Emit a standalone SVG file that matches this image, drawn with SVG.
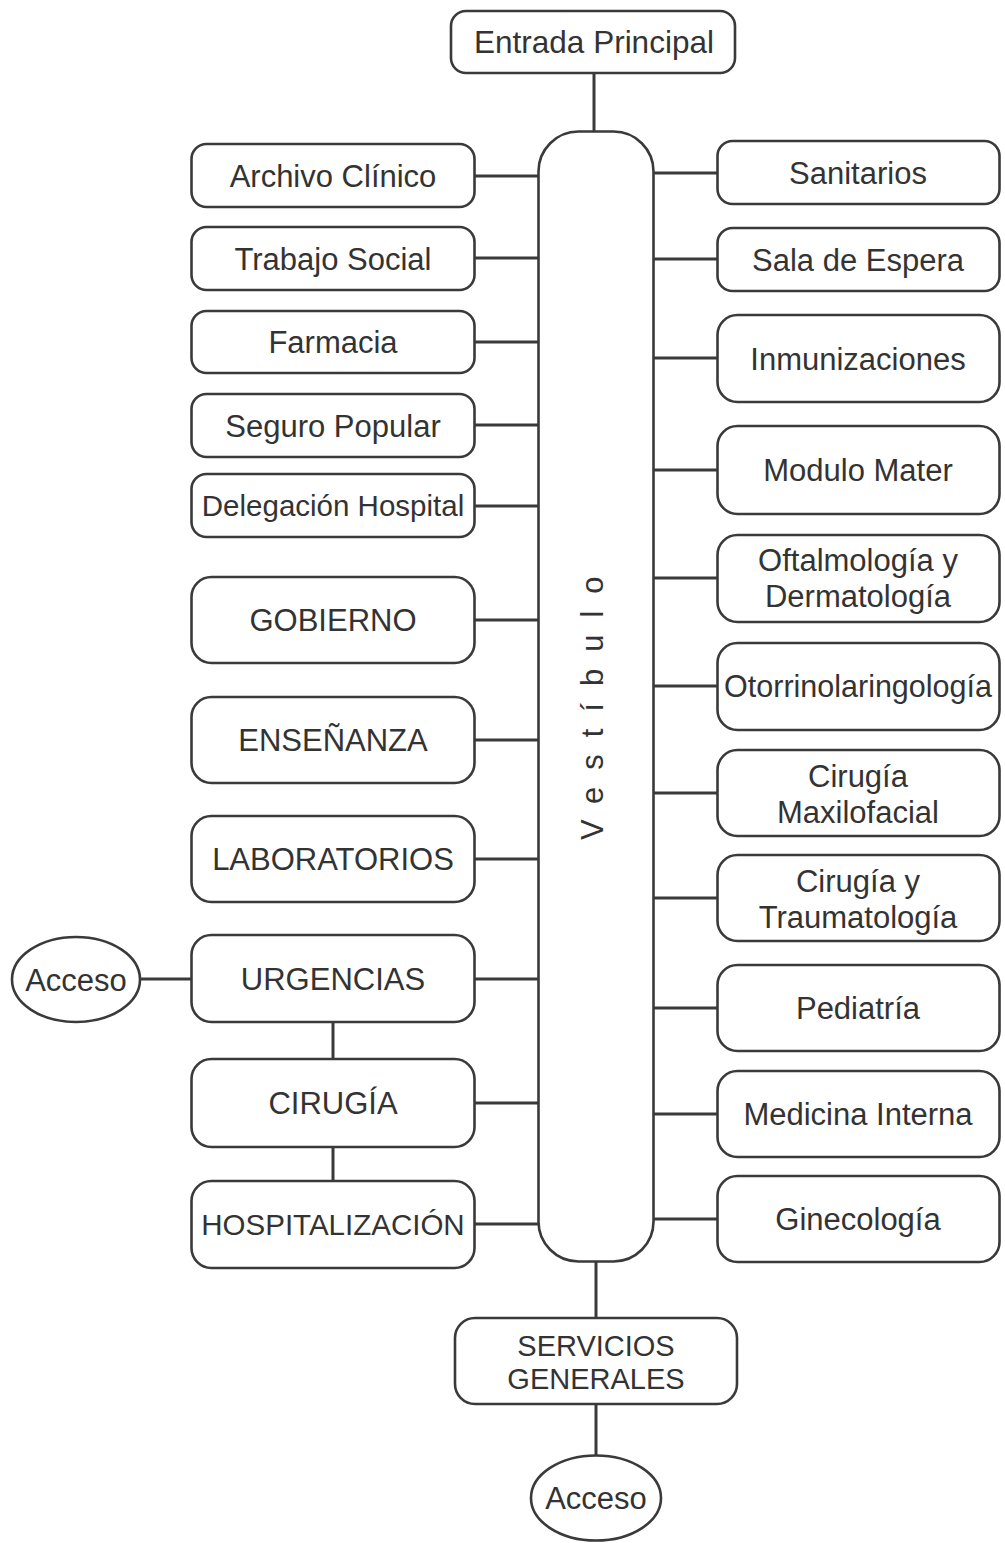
<svg xmlns="http://www.w3.org/2000/svg" width="1005" height="1543" viewBox="0 0 1005 1543">
<style>
.b{fill:#fff;stroke:#3a3a3a;stroke-width:2.6}
.c line{stroke:#3a3a3a;stroke-width:3}
text{font-family:"Liberation Sans",Arial,sans-serif;font-size:31px;fill:#333;text-anchor:middle}
.s{font-size:29.5px}
</style>
<rect width="1005" height="1543" fill="#fff"/>
<g class="c">
<line x1="594" y1="73" x2="594" y2="132"/>
<line x1="596" y1="1261" x2="596" y2="1318"/>
<line x1="596" y1="1404" x2="596" y2="1456"/>
<line x1="140" y1="979" x2="192" y2="979"/>
<line x1="333" y1="1022" x2="333" y2="1060"/>
<line x1="333" y1="1146" x2="333" y2="1182"/>
<line x1="474" y1="176" x2="539" y2="176"/>
<line x1="474" y1="258" x2="539" y2="258"/>
<line x1="474" y1="342" x2="539" y2="342"/>
<line x1="474" y1="425" x2="539" y2="425"/>
<line x1="474" y1="506" x2="539" y2="506"/>
<line x1="474" y1="620" x2="539" y2="620"/>
<line x1="474" y1="740" x2="539" y2="740"/>
<line x1="474" y1="859" x2="539" y2="859"/>
<line x1="474" y1="979" x2="539" y2="979"/>
<line x1="474" y1="1103" x2="539" y2="1103"/>
<line x1="474" y1="1224" x2="539" y2="1224"/>
<line x1="653" y1="173" x2="718" y2="173"/>
<line x1="653" y1="259" x2="718" y2="259"/>
<line x1="653" y1="358" x2="718" y2="358"/>
<line x1="653" y1="470" x2="718" y2="470"/>
<line x1="653" y1="578" x2="718" y2="578"/>
<line x1="653" y1="686" x2="718" y2="686"/>
<line x1="653" y1="793" x2="718" y2="793"/>
<line x1="653" y1="898" x2="718" y2="898"/>
<line x1="653" y1="1008" x2="718" y2="1008"/>
<line x1="653" y1="1114" x2="718" y2="1114"/>
<line x1="653" y1="1219" x2="718" y2="1219"/>
</g>
<g id="vestibulo"><rect class="b" x="538.5" y="131.5" width="115" height="1130" rx="40"/><text transform="translate(603,840) rotate(-90)" style="text-anchor:start;font-size:31px;letter-spacing:17px">Vestíbulo</text></g>
<g id="entrada"><rect class="b" x="451" y="11" width="284" height="62" rx="15"/><text x="594" y="53" style="font-size:31.5px">Entrada Principal</text></g>
<g id="archivo"><rect class="b" x="191.5" y="144" width="283" height="63" rx="15"/><text x="333" y="187">Archivo Clínico</text></g>
<g id="trabajo"><rect class="b" x="191.5" y="227" width="283" height="63" rx="15"/><text x="333" y="270">Trabajo Social</text></g>
<g id="farmacia"><rect class="b" x="191.5" y="311" width="283" height="62" rx="15"/><text x="333" y="353">Farmacia</text></g>
<g id="seguro"><rect class="b" x="191.5" y="394" width="283" height="63" rx="15"/><text x="333" y="437">Seguro Popular</text></g>
<g id="delegacion"><rect class="b" x="191.5" y="474" width="283" height="63" rx="15"/><text class="s" x="333" y="516">Delegación Hospital</text></g>
<g id="gobierno"><rect class="b" x="191.5" y="577" width="283" height="86" rx="20"/><text x="333" y="631">GOBIERNO</text></g>
<g id="ensenanza"><rect class="b" x="191.5" y="697" width="283" height="86" rx="20"/><text x="333" y="751">ENSEÑANZA</text></g>
<g id="laboratorios"><rect class="b" x="191.5" y="816" width="283" height="86" rx="20"/><text x="333" y="870">LABORATORIOS</text></g>
<g id="urgencias"><rect class="b" x="191.5" y="935" width="283" height="87" rx="20"/><text x="333" y="990">URGENCIAS</text></g>
<g id="cirugia"><rect class="b" x="191.5" y="1059" width="283" height="88" rx="20"/><text x="333" y="1114">CIRUGÍA</text></g>
<g id="hospitalizacion"><rect class="b" x="191.5" y="1181" width="283" height="87" rx="20"/><text class="s" x="333" y="1235">HOSPITALIZACIÓN</text></g>
<g id="acceso1"><ellipse class="b" cx="76" cy="979.5" rx="64" ry="42.5"/><text x="76" y="991">Acceso</text></g>
<g id="sanitarios"><rect class="b" x="717.5" y="141" width="282" height="63" rx="15"/><text x="858" y="184">Sanitarios</text></g>
<g id="sala"><rect class="b" x="717.5" y="228" width="282" height="63" rx="15"/><text x="858" y="271">Sala de Espera</text></g>
<g id="inmunizaciones"><rect class="b" x="717.5" y="315" width="282" height="87" rx="20"/><text x="858" y="370">Inmunizaciones</text></g>
<g id="modulo"><rect class="b" x="717.5" y="426" width="282" height="88" rx="20"/><text x="858" y="481">Modulo Mater</text></g>
<g id="oftalmologia"><rect class="b" x="717.5" y="535" width="282" height="87" rx="20"/><text x="858" y="571">Oftalmología y</text><text x="858" y="607">Dermatología</text></g>
<g id="otorrino"><rect class="b" x="717.5" y="643" width="282" height="87" rx="20"/><text x="858" y="697" style="font-size:30.5px">Otorrinolaringología</text></g>
<g id="maxilofacial"><rect class="b" x="717.5" y="750" width="282" height="86" rx="20"/><text x="858" y="787">Cirugía</text><text x="858" y="823">Maxilofacial</text></g>
<g id="traumatologia"><rect class="b" x="717.5" y="855" width="282" height="86" rx="20"/><text x="858" y="892">Cirugía y</text><text x="858" y="928">Traumatología</text></g>
<g id="pediatria"><rect class="b" x="717.5" y="965" width="282" height="86" rx="20"/><text x="858" y="1019">Pediatría</text></g>
<g id="medicina"><rect class="b" x="717.5" y="1071" width="282" height="86" rx="20"/><text x="858" y="1125">Medicina Interna</text></g>
<g id="ginecologia"><rect class="b" x="717.5" y="1176" width="282" height="86" rx="20"/><text x="858" y="1230">Ginecología</text></g>
<g id="servicios"><rect class="b" x="455" y="1318" width="282" height="86" rx="20"/><text x="596" y="1356" style="font-size:29px">SERVICIOS</text><text x="596" y="1389" style="font-size:29px">GENERALES</text></g>
<g id="acceso2"><ellipse class="b" cx="596" cy="1498" rx="65" ry="42.5"/><text x="596" y="1509">Acceso</text></g>
</svg>
